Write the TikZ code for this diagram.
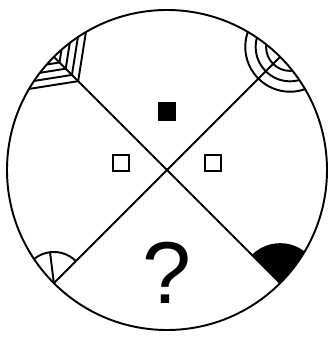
\documentclass[tikz,border=0pt]{standalone}
\usepackage{fontspec}
\setmainfont{Liberation Sans}
\usetikzlibrary{calc}

\begin{document}
\begin{tikzpicture}[scale=1.6, line width=1.1pt]
    \useasboundingbox (-2.0875, -2.1) rectangle (2.075, 2.125);

    \coordinate (o) at (0, 0);
    \coordinate (ne) at (45:2);
    \coordinate (nw) at (135:2);
    \coordinate (sw) at (225:2);
    \coordinate (se) at (315:2);
    \coordinate (c) at (45:2.175);

    \draw (nw) -- (se);
    \draw (ne) -- (sw);

    \begin{scope}
    \clip (o) circle (2);
    % nested arcs, top right
    \foreach \r in {0.3, 0.43, 0.56}
        \draw (c) circle (\r);
    % nested corners, top left
    \foreach \d in {0.1, 0.21, 0.32, 0.43}
        \draw ($(nw)+(-45:\d)+(81:0.75)$) -- ($(nw)+(-45:\d)$) -- ($(nw)+(-45:\d)+(189:0.75)$);
    % single arc with tick, bottom left
    \draw (sw) ++(45:0.39) arc (45:160:0.39);
    \draw (sw) -- ++(97:0.39);
    % black sector, bottom right
    \fill (se) -- ++(135:0.5) arc (135:20:0.5) -- cycle;
    \end{scope}

    \draw (o) circle (2);

    \node[fill, minimum size=0.37cm, inner sep=0] (top) at (0, 0.73) {};
    \node[draw, line width=1pt, minimum size=0.33cm, inner sep=0] (left) at (-0.575, 0.0875) {};
    \node[draw, line width=1pt, minimum size=0.33cm, inner sep=0] (right) at (0.575, 0.0875) {};
    \node[inner sep=0] (ask) at (0, -1.28) {\fontsize{50}{50}\selectfont ?};
\end{tikzpicture}
\end{document}
